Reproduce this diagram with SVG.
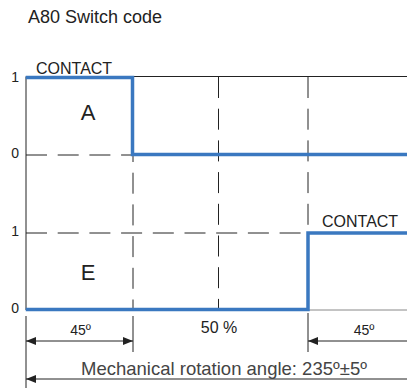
<svg xmlns="http://www.w3.org/2000/svg" width="407" height="388" viewBox="0 0 407 388">
<defs>
<style>
.t{font-family:"Liberation Sans",Arial,sans-serif;fill:#222}
.ax{stroke:#222;stroke-width:1;fill:none}
.dash{stroke:#222;stroke-width:1;fill:none;stroke-dasharray:21 10.7}
.blue{stroke:#3a78c0;stroke-width:3.5;fill:none;stroke-linejoin:miter;stroke-linecap:square}
.dim{stroke:#222;stroke-width:1;fill:none}
</style>
<marker id="ah" viewBox="0 0 10 8" refX="10" refY="4" markerWidth="10" markerHeight="8" markerUnits="userSpaceOnUse" orient="auto-start-reverse">
<path d="M0,0 L10,4 L0,8 Z" fill="#222"/>
</marker>
</defs>
<rect width="407" height="388" fill="#fff"/>
<text class="t" x="28" y="22.5" font-size="18">A80 Switch code</text>

<g id="grid">
<line class="ax" x1="26" y1="76.5" x2="26" y2="310"/>
<line class="ax" x1="133" y1="76.5" x2="407" y2="76.5"/>
<line class="dash" x1="26" y1="155" x2="133" y2="155"/>
<line class="dash" x1="26" y1="233" x2="308" y2="233"/>
<line class="dash" x1="133" y1="141" x2="133" y2="310"/>
<line class="dash" x1="218.5" y1="77" x2="218.5" y2="310"/>
<line class="dash" x1="308" y1="77" x2="308" y2="233"/>
<line x1="308" y1="310" x2="407" y2="310" stroke="#888" stroke-width="1"/>
</g>

<g id="signalA">
<polyline class="blue" points="27.5,77.5 132.5,77.5 132.5,154.5 405.5,154.5"/>
<text class="t" x="36" y="74" font-size="16">CONTACT</text>
<text class="t" x="88" y="120" font-size="22" text-anchor="middle">A</text>
<text class="t" x="19" y="82" font-size="14" text-anchor="end">1</text>
<text class="t" x="19" y="157.5" font-size="14" text-anchor="end">0</text>
</g>

<g id="signalE">
<polyline class="blue" points="27.5,309.5 308,309.5 308,233 405.5,233"/>
<text class="t" x="322" y="226.5" font-size="16">CONTACT</text>
<text class="t" x="88" y="279.5" font-size="22" text-anchor="middle">E</text>
<text class="t" x="19" y="236" font-size="14" text-anchor="end">1</text>
<text class="t" x="19" y="313" font-size="14" text-anchor="end">0</text>
</g>

<g id="dimensions">
<line class="dim" x1="26" y1="316" x2="26" y2="388"/>
<line class="dim" x1="133" y1="316" x2="133" y2="352"/>
<line class="dim" x1="308" y1="313" x2="308" y2="352"/>
<line class="dim" x1="26" y1="341" x2="133" y2="341" marker-start="url(#ah)" marker-end="url(#ah)"/>
<line class="dim" x1="407" y1="341" x2="308" y2="341" marker-end="url(#ah)"/>
<line class="dim" x1="407" y1="379" x2="26" y2="379" marker-end="url(#ah)"/>
<text class="t" x="80.5" y="334.5" font-size="14" text-anchor="middle">45º</text>
<text class="t" x="219" y="332.5" font-size="16" text-anchor="middle">50 %</text>
<text class="t" x="364" y="334.5" font-size="14" text-anchor="middle">45º</text>
<text class="t" x="81" y="374.5" font-size="18.5" fill="#444" style="fill:#444">Mechanical rotation angle: 235º±5º</text>
</g>
</svg>
